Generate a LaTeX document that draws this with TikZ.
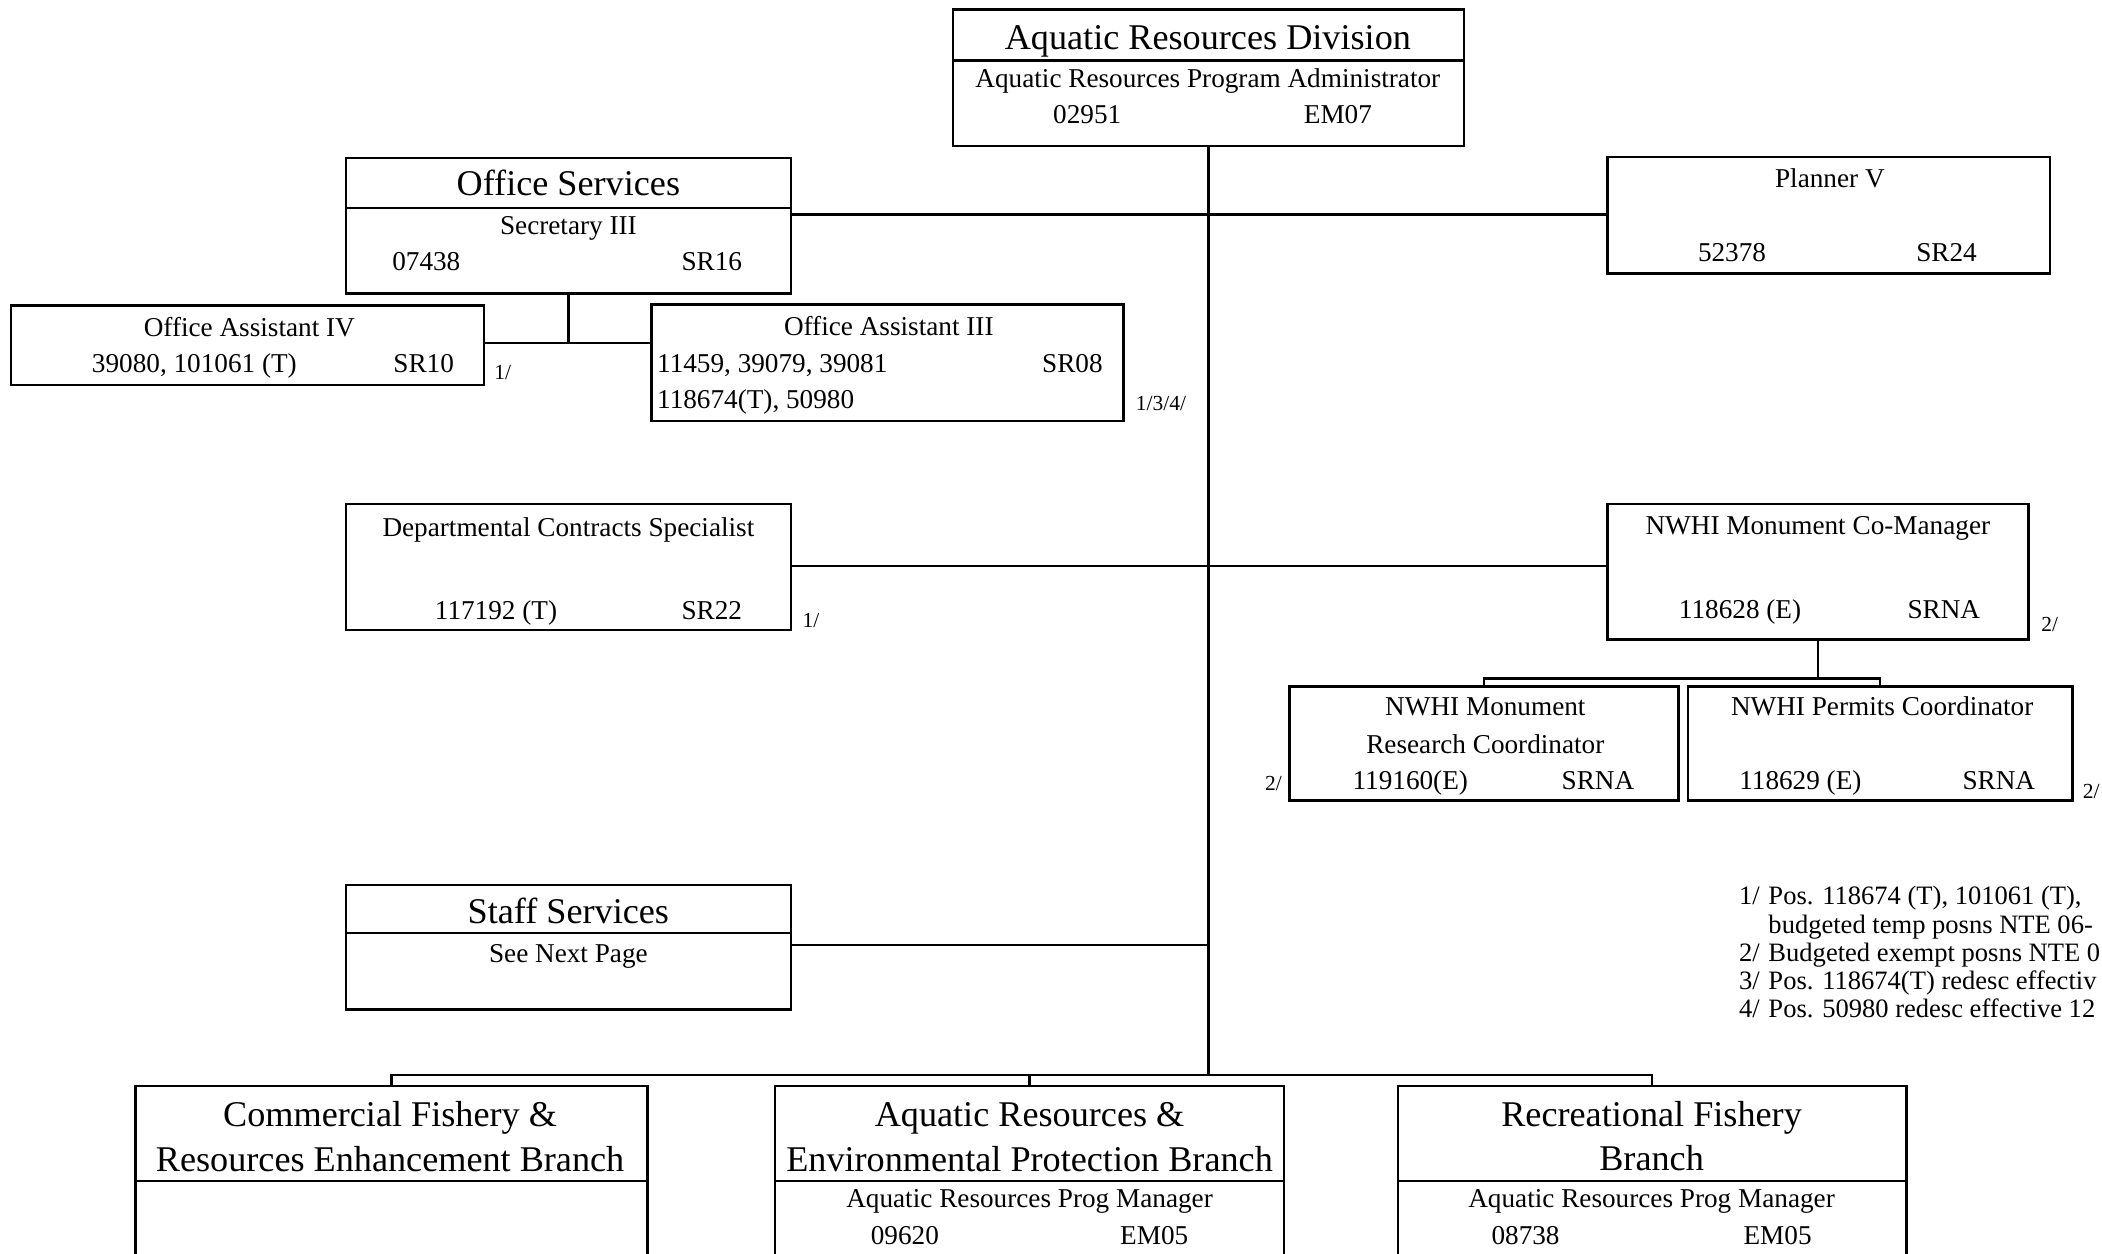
\documentclass[tikz,border=0pt]{standalone}
\usepackage{fontspec}
\setmainfont{Liberation Serif}
\begin{document}
\begin{tikzpicture}[x=1pt,y=-1pt,
  bx/.style={draw, line width=1.8pt, rectangle, inner sep=0pt, outer sep=0pt, anchor=north west},
  ln/.style={line width=1.8pt},
  tx/.style={anchor=base, inner sep=0pt, font=\fontsize{20.3}{24}\selectfont},
  txl/.style={tx, anchor=base west},
  nt/.style={anchor=base west, inner sep=0pt, font=\fontsize{19.8}{24}\selectfont},
  ttl/.style={anchor=base, inner sep=0pt, font=\fontsize{27}{32}\selectfont},
  fn/.style={anchor=base, inner sep=0pt, font=\fontsize{16}{19}\selectfont}]
\useasboundingbox (0,0) rectangle (1568,935);
\fill[white] (0,0) rectangle (1568,935);

% ---- boxes
\node[bx, minimum width=381, minimum height=102] (top) at (711,7) {};
\draw[ln] (top.west |- 0,45) -- (top.east |- 0,45);
\node[ttl] (t1) at (901,37) {Aquatic Resources Division};
\node[tx] (t2) at (901,65) {Aquatic Resources Program Administrator};
\node[tx] (t3) at (811,92) {02951};
\node[tx] (t4) at (998,92) {EM07};

\node[bx, minimum width=332, minimum height=101] (os) at (258,118) {};
\draw[ln] (os.west |- 0,155) -- (os.east |- 0,155);
\node[ttl] (os1) at (424,146) {Office Services};
\node[tx] (os2) at (424,175) {Secretary III};
\node[tx] (os3) at (318,202) {07438};
\node[tx] (os4) at (531,202) {SR16};

\node[bx, minimum width=330, minimum height=87] (pv) at (1199,117) {};
\node[tx] (pv1) at (1365,140) {Planner V};
\node[tx] (pv2) at (1292,195) {52378};
\node[tx] (pv3) at (1452,195) {SR24};

\node[bx, minimum width=353, minimum height=59] (oa4) at (8,228) {};
\node[tx] (oa41) at (186,251) {Office Assistant IV};
\node[tx] (oa42) at (145,278) {39080, 101061 (T)};
\node[tx] (oa43) at (316,278) {SR10};
\node[fn] (oa4n) at (375,283) {1/};

\node[bx, minimum width=352, minimum height=87] (oa3) at (486,227) {};
\node[tx] (oa31) at (663,250) {Office Assistant III};
\node[txl] (oa32) at (490,278) {11459, 39079, 39081};
\node[tx] (oa33) at (800,278) {SR08};
\node[txl] (oa34) at (490,305) {118674(T), 50980};
\node[fn] (oa3n) at (866,306) {1/3/4/};

\node[bx, minimum width=332, minimum height=94] (dc) at (258,376) {};
\node[tx] (dc1) at (424,400) {Departmental Contracts Specialist};
\node[tx] (dc2) at (370,462) {117192 (T)};
\node[tx] (dc3) at (531,462) {SR22};
\node[fn] (dcn) at (605,468) {1/};

\node[bx, minimum width=314, minimum height=101] (cm) at (1199,376) {};
\node[tx] (cm1) at (1356,399) {NWHI Monument Co-Manager};
\node[tx] (cm2) at (1298,461) {118628 (E)};
\node[tx] (cm3) at (1450,461) {SRNA};
\node[fn] (cmn) at (1529,471) {2/};

\node[bx, minimum width=290, minimum height=85] (rc) at (962,512) {};
\node[tx] (rc1) at (1108,534) {NWHI Monument};
\node[tx] (rc2) at (1108,562) {Research Coordinator};
\node[tx] (rc3) at (1052,589) {119160(E)};
\node[tx] (rc4) at (1192,589) {SRNA};
\node[fn] (rcn) at (950,590) {2/};

\node[bx, minimum width=287, minimum height=85] (pc) at (1259,512) {};
\node[tx] (pc1) at (1404,534) {NWHI Permits Coordinator};
\node[tx] (pc2) at (1343,589) {118629 (E)};
\node[tx] (pc3) at (1491,589) {SRNA};
\node[fn] (pcn) at (1560,596) {2/};

\node[bx, minimum width=332, minimum height=93] (ss) at (258,660) {};
\draw[ln] (ss.west |- 0,696) -- (ss.east |- 0,696);
\node[ttl] (ss1) at (424,689) {Staff Services};
\node[tx] (ss2) at (424,718) {See Next Page};

% notes
\node[nt] (n1a) at (1297,675) {1/};
\node[nt] (n1b) at (1319,675) {Pos. 118674 (T), 101061 (T),};
\node[nt] (n1c) at (1319,696) {budgeted temp posns NTE 06-};
\node[nt] (n2a) at (1297,717) {2/};
\node[nt] (n2b) at (1319,717) {Budgeted exempt posns NTE 0};
\node[nt] (n3a) at (1297,738) {3/};
\node[nt] (n3b) at (1319,738) {Pos. 118674(T) redesc effectiv};
\node[nt] (n4a) at (1297,759) {4/};
\node[nt] (n4b) at (1319,759) {Pos. 50980 redesc effective 12};

\begin{scope}
\clip (0,0) rectangle (1568,935);
\node[bx, minimum width=382, minimum height=135] (cf) at (101,810) {};
\draw[ln] (cf.west |- 0,881) -- (cf.east |- 0,881);
\node[ttl] (cf1) at (291,840) {Commercial Fishery \&};
\node[ttl] (cf2) at (291,874) {Resources Enhancement Branch};

\node[bx, minimum width=380, minimum height=135] (ae) at (578,810) {};
\draw[ln] (ae.west |- 0,881) -- (ae.east |- 0,881);
\node[ttl] (ae1) at (768,840) {Aquatic Resources \&};
\node[ttl] (ae2) at (768,874) {Environmental Protection Branch};
\node[tx] (ae3) at (768,901) {Aquatic Resources Prog Manager};
\node[tx] (ae4) at (675,928) {09620};
\node[tx] (ae5) at (861,928) {EM05};

\node[bx, minimum width=379, minimum height=135] (rf) at (1043,810) {};
\draw[ln] (rf.west |- 0,881) -- (rf.east |- 0,881);
\node[ttl] (rf1) at (1232,840) {Recreational Fishery};
\node[ttl] (rf2) at (1232,873) {Branch};
\node[tx] (rf3) at (1232,901) {Aquatic Resources Prog Manager};
\node[tx] (rf4) at (1138,928) {08738};
\node[tx] (rf5) at (1326,928) {EM05};
\end{scope}

% ---- connectors
\coordinate (bus) at (900,802);
\coordinate (jos) at (0,256);
\coordinate (jcm) at (0,506);
\draw[ln] (top.south) -- (top.south |- bus);
\draw[ln] (pv.west |- 0,160) -- (os.east |- 0,160);
\draw[ln] (os.south) -- (os.south |- jos);
\draw[ln] (oa4.east |- jos) -- (oa3.west |- jos);
\draw[ln] (dc.east |- 0,422) -- (cm.west |- 0,422);
\draw[ln] (cm.south) -- (cm.south |- jcm);
\draw[ln] (rc.north) -- (rc.north |- jcm) -- (pc.north |- jcm) -- (pc.north);
\draw[ln] (ss.east |- 0,705) -- (top.south |- 0,705);
\draw[ln] (cf.north) -- (cf.north |- bus) -- (rf.north |- bus) -- (rf.north);
\draw[ln] (ae.north) -- (ae.north |- bus);
\end{tikzpicture}
\end{document}
